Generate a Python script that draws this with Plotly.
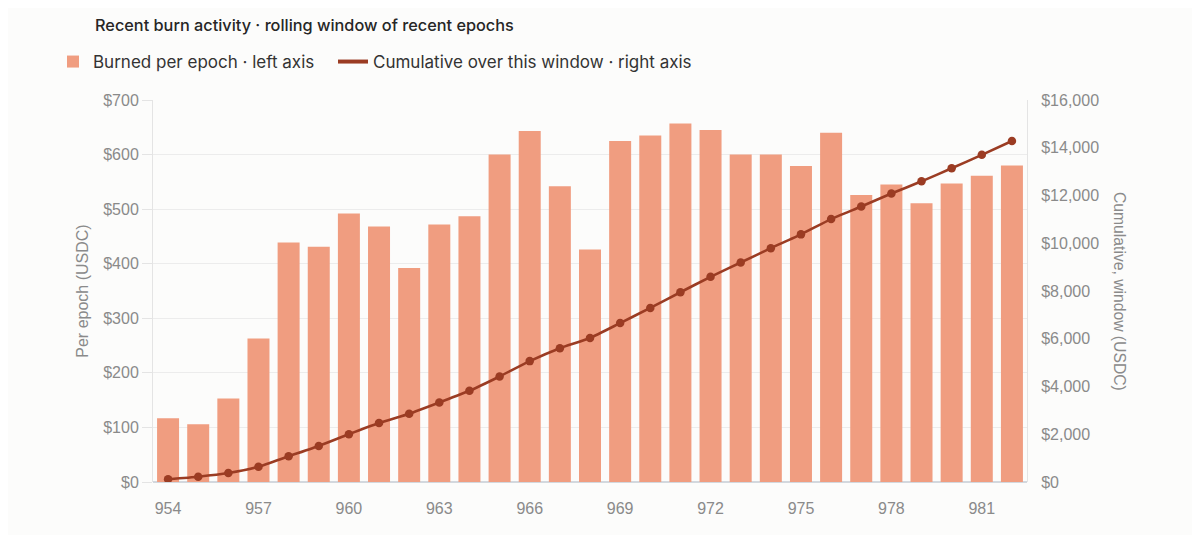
import plotly.graph_objects as go

# epochs in the rolling window
epochs = list(range(954, 983))

# burned per epoch (USDC)
burned = [117, 106, 153, 263, 439, 431, 492, 468, 392, 472,
          487, 600, 643, 542, 426, 625, 635, 657, 645, 600,
          600, 579, 640, 526, 545, 511, 547, 561, 580]

# cumulative over the window (USDC)
cumulative = [117, 223, 376, 639, 1078, 1509, 2001, 2469, 2861, 3333,
              3820, 4420, 5063, 5605, 6031, 6656, 7291, 7948, 8593, 9193,
              9793, 10372, 11012, 11538, 12083, 12594, 13141, 13702, 14282]

left_ticks = [0, 100, 200, 300, 400, 500, 600, 700]
right_ticks = [0, 2000, 4000, 6000, 8000, 10000, 12000, 14000, 16000]

BAR = "#f09d80"
LINE = "#9b3c23"
GREY = "#8a8a8a"
TICKFONT = "Liberation Sans, Arial, sans-serif"
TEXTFONT = "Inter, Noto Sans, sans-serif"

# the page has an 8px body margin, so everything is placed 8px up/left
OFF = 8
L, T, R, B = 153 - OFF, 100 - OFF, 1027 - OFF, 482 - OFF
PW, PH = R - L, B - T

fig = go.Figure()

fig.add_trace(go.Bar(
    x=epochs, y=burned,
    name="Burned per epoch · left axis",
    marker=dict(color=BAR, line=dict(width=0)),
    yaxis="y",
    legend="legend",
))

fig.add_trace(go.Scatter(
    x=epochs, y=cumulative,
    name="Cumulative over this window · right axis",
    mode="lines+markers",
    line=dict(color=LINE, width=2.6, shape="spline", smoothing=0.5),
    marker=dict(color=LINE, size=8.5),
    yaxis="y2",
    showlegend=False,
))

# legend entry for the line: plain thick line, no marker
fig.add_trace(go.Scatter(
    x=[None], y=[None],
    name="Cumulative over this window · right axis",
    mode="lines",
    line=dict(color=LINE, width=4),
    yaxis="y2",
    legend="legend2",
))

legend_style = dict(
    orientation="h",
    xanchor="left",
    y=1 + (100 - 62) / PH, yanchor="middle",
    font=dict(family=TEXTFONT, size=17, color="#333333"),
    itemwidth=30,
    bgcolor="rgba(0,0,0,0)",
)

fig.update_layout(
    width=1200, height=535,
    margin=dict(l=L, r=1200 - R, t=T, b=535 - B),
    paper_bgcolor="#fcfcfb",
    plot_bgcolor="#fcfcfb",
    bargap=0.27,
    showlegend=True,
    title=dict(
        text="Recent burn activity · rolling window of recent epochs",
        x=(95 - OFF) / 1200, xanchor="left",
        y=1 - (25 - OFF) / 535, yanchor="middle",
        font=dict(family=TEXTFONT, size=16.3, color="#262626", weight=500),
    ),
    legend=dict(x=(53 - OFF - L) / PW, **legend_style),
    legend2=dict(x=(333 - OFF - L) / PW, **legend_style),
    xaxis=dict(
        tickmode="linear", tick0=954, dtick=3,
        range=[953.5, 982.5],
        showgrid=False, zeroline=False,
        showline=False,
        ticks="outside", ticklen=12, tickcolor="rgba(0,0,0,0)",
        tickfont=dict(family=TICKFONT, size=16, color=GREY),
    ),
    yaxis=dict(
        range=[0, 700],
        tickvals=left_ticks,
        ticktext=[f"${v}" for v in left_ticks],
        showgrid=True, gridcolor="#ececec", gridwidth=1,
        zeroline=True, zerolinecolor="#d3d8de", zerolinewidth=1.5,
        showline=True, linecolor="#e4e4e4", linewidth=1,
        ticks="outside", ticklen=10, tickcolor="#e4e4e4",
        tickfont=dict(family=TICKFONT, size=16, color=GREY),
        title=dict(text="Per epoch (USDC)", standoff=10,
                   font=dict(family=TICKFONT, size=16, color=GREY)),
    ),
    yaxis2=dict(
        overlaying="y", side="right",
        range=[0, 16000],
        tickvals=right_ticks,
        ticktext=[f"${v:,}" for v in right_ticks],
        showgrid=False, zeroline=False,
        showline=True, linecolor="#e4e4e4", linewidth=1,
        ticks="outside", ticklen=10, tickcolor="rgba(0,0,0,0)",
        tickfont=dict(family=TICKFONT, size=16, color=GREY),
    ),
    annotations=[dict(
        text="Cumulative, window (USDC)",
        xref="paper", yref="paper",
        x=1 + (1120 - 1027) / PW, y=0.5,
        xanchor="center", yanchor="middle",
        textangle=90, showarrow=False,
        font=dict(family=TICKFONT, size=15.7, color=GREY),
    )],
)

fig.write_html("out.html")
